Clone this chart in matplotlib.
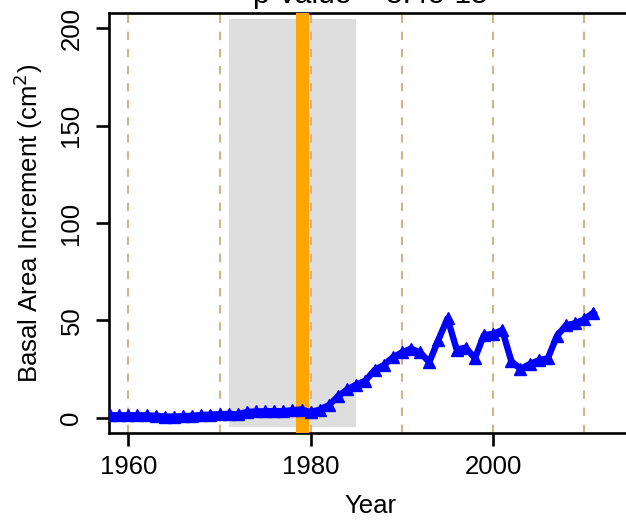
import matplotlib
matplotlib.use("Agg")
import matplotlib.pyplot as plt
from matplotlib.patches import Rectangle

plt.rcParams["font.family"] = ["Liberation Sans", "DejaVu Sans"]

# annual basal area increment series
years = list(range(1958, 2012))
bai = [1.2, 1.3, 1.2, 1.3, 1.2, 1.0, 0.6, 0.6, 0.8, 1.0,
       1.4, 1.6, 1.8, 2.0, 1.7, 3.0, 3.2, 3.3, 3.4, 3.3,
       3.9, 4.2, 2.8, 4.2, 6.5, 11.0, 14.5, 17.0, 19.0, 24.5,
       27.0, 31.0, 33.5, 35.5, 33.5, 28.5, 40.0, 51.0, 35.0, 36.0,
       30.5, 42.5, 43.0, 45.0, 29.0, 25.0, 27.5, 29.5, 30.5, 42.0,
       47.5, 48.5, 50.5, 54.0]

decade_lines = [1960, 1970, 1980, 1990, 2000, 2010]
window_start, window_end = 1971, 1985
window_low, window_high = -5, 205
event_year = 1979
title_text = "p-value = 3.4e-15"

fig = plt.figure(figsize=(6.26, 5.21), dpi=100)
ax = fig.add_axes([109 / 626, 87.7 / 521, 522 / 626, 420.6 / 521])

ax.add_patch(Rectangle((window_start, window_low), window_end - window_start,
                       window_high - window_low, color="#DEDEDE", lw=0, zorder=1))
for yr in decade_lines:
    ax.axvline(yr, color="#D2B48C", lw=1.5, linestyle=(0, (4.0, 4.2)), zorder=2)
ax.axvline(event_year, color="#FFA500", lw=9.4, zorder=3)

ax.plot(years, bai, color="#0000FF", lw=4.6, marker="^", markersize=9,
        solid_joinstyle="round", zorder=4)

ax.set_xlim(1957.88, 2015.12)
ax.set_ylim(-8, 208)
ax.set_xticks([1960, 1980, 2000])
ax.set_yticks([0, 50, 100, 150, 200])

for s in ax.spines.values():
    s.set_linewidth(1.9)
ax.tick_params(axis="both", length=9.4, width=1.9, labelsize=18.5)
ax.tick_params(axis="x", pad=6.5)
ax.tick_params(axis="y", pad=9)
for lab in ax.get_yticklabels():
    lab.set_rotation(90)
    lab.set_va("center")

ax.set_xlabel("Year", fontsize=18.5)
ax.xaxis.set_label_coords(0.5, -0.1453)
ax.set_ylabel("Basal Area Increment (cm$^2$)", fontsize=18.5, va="center")
ax.yaxis.set_label_coords(-0.155, 0.5)

ax.text(0.5, 1.0219, title_text, transform=ax.transAxes, ha="center",
        va="baseline", fontsize=21.6)

fig.savefig("out.png", dpi=100)
